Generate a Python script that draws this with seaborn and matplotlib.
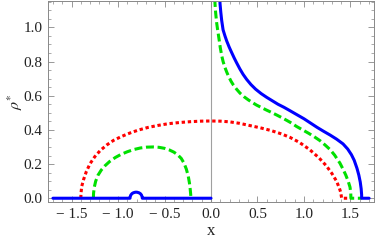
import numpy as np
import pandas as pd
import matplotlib
matplotlib.use('Agg')
import matplotlib.pyplot as plt
from matplotlib.ticker import MultipleLocator
import seaborn as sns

sns.set_style('ticks')
plt.rcParams['font.family'] = ['Liberation Serif', 'DejaVu Serif']
plt.rcParams['mathtext.fontset'] = 'stix'

# red dotted curve
red_x = [-1.40, -1.398, -1.39, -1.37, -1.34, -1.30, -1.25, -1.19, -1.12, -1.05, -0.96, -0.87,
         -0.78, -0.68, -0.57, -0.46, -0.34, -0.22, -0.11, 0.0, 0.10, 0.20, 0.31, 0.42, 0.53,
         0.64, 0.76, 0.85, 0.95, 1.06, 1.16, 1.24, 1.30, 1.35, 1.38, 1.395, 1.405, 1.50]
red_y = [0.0, 0.03, 0.07, 0.11, 0.157, 0.203, 0.243, 0.28, 0.312, 0.338, 0.362, 0.382,
         0.399, 0.414, 0.426, 0.436, 0.443, 0.448, 0.451, 0.452, 0.451, 0.447, 0.438, 0.425, 0.412,
         0.397, 0.376, 0.356, 0.327, 0.285, 0.237, 0.19, 0.145, 0.10, 0.06, 0.035, 0.0, 0.0]

# green dashed curve, left arc and right branch
green_left_x = [-1.265, -1.263, -1.255, -1.24, -1.215, -1.18, -1.14, -1.09, -1.03, -0.97, -0.90,
                -0.83, -0.76, -0.69, -0.62, -0.56, -0.50, -0.45, -0.40, -0.36, -0.32, -0.29,
                -0.265, -0.245, -0.232, -0.223, -0.218, -0.217]
green_left_y = [0.0, 0.03, 0.065, 0.10, 0.135, 0.165, 0.19, 0.215, 0.238, 0.256, 0.272,
                0.285, 0.294, 0.299, 0.30, 0.298, 0.292, 0.283, 0.27, 0.255, 0.233, 0.205,
                0.17, 0.13, 0.09, 0.05, 0.02, 0.0]
green_right_x = [0.035, 0.043, 0.05, 0.06, 0.07, 0.078, 0.09, 0.10, 0.115, 0.13, 0.15, 0.17,
                 0.19, 0.215, 0.24, 0.275, 0.312, 0.355, 0.40, 0.445, 0.49, 0.545, 0.60, 0.655,
                 0.706, 0.76, 0.81, 0.865, 0.92, 0.985, 1.05, 1.11, 1.172, 1.23, 1.28, 1.33,
                 1.387, 1.42, 1.45, 1.475, 1.495, 1.503, 1.505, 1.62]
green_right_y = [1.25, 1.139, 1.085, 1.03, 0.99, 0.962, 0.918, 0.88, 0.835, 0.80, 0.765, 0.737,
                 0.712, 0.685, 0.663, 0.638, 0.615, 0.594, 0.576, 0.56, 0.545, 0.53, 0.515, 0.501,
                 0.487, 0.472, 0.457, 0.44, 0.42, 0.40, 0.38, 0.36, 0.337, 0.31, 0.285, 0.252,
                 0.205, 0.17, 0.135, 0.10, 0.065, 0.03, 0.0, 0.0]

# blue solid curve, flat part with small bump and right branch
blue_left_x = [-1.70, -0.871, -0.869, -0.862, -0.850, -0.835, -0.816, -0.805, -0.794, -0.775,
               -0.760, -0.748, -0.741, -0.739, 0.0]
blue_left_y = [0.0, 0.0, 0.009, 0.019, 0.027, 0.032, 0.035, 0.0355, 0.035, 0.032,
               0.027, 0.019, 0.009, 0.0, 0.0]
blue_right_x = [0.09, 0.097, 0.105, 0.115, 0.13, 0.15, 0.169, 0.195, 0.22, 0.25, 0.276, 0.31,
                0.345, 0.384, 0.43, 0.48, 0.54, 0.60, 0.66, 0.72, 0.785, 0.85, 0.92, 1.0, 1.07,
                1.14, 1.21, 1.28, 1.35, 1.42, 1.47, 1.51, 1.54, 1.57, 1.59, 1.605, 1.615, 1.62,
                1.62, 1.70]
blue_right_y = [1.25, 1.139, 1.09, 1.04, 0.985, 0.95, 0.92, 0.885, 0.855, 0.82, 0.792, 0.757,
                0.725, 0.695, 0.665, 0.638, 0.612, 0.59, 0.57, 0.55, 0.532, 0.512, 0.49, 0.465, 0.44,
                0.415, 0.392, 0.37, 0.346, 0.318, 0.288, 0.255, 0.222, 0.175, 0.135, 0.095, 0.055, 0.02,
                0.0, 0.0]

fig = plt.figure(figsize=(3.75, 2.45), dpi=100)
ax = fig.add_axes([48 / 375, 43 / 245, 326 / 375, 201 / 245])

# vertical axis line at x=0
ax.axvline(0, color='#a0a0a0', lw=0.8, zorder=0)

lw = 2.2
sns.lineplot(data=pd.DataFrame({'x': red_x, 'y': red_y}), x='x', y='y', ax=ax,
             estimator=None, sort=False, color='#ff0000', lw=lw, linestyle=(0, (1.1, 0.9)))
for gx, gy in [(green_left_x, green_left_y), (green_right_x, green_right_y)]:
    sns.lineplot(data=pd.DataFrame({'x': gx, 'y': gy}), x='x', y='y', ax=ax,
                 estimator=None, sort=False, color='#00e000', lw=lw, linestyle=(0, (2.6, 1.2)))
for bx, by in [(blue_left_x, blue_left_y), (blue_right_x, blue_right_y)]:
    sns.lineplot(data=pd.DataFrame({'x': bx, 'y': by}), x='x', y='y', ax=ax,
                 estimator=None, sort=False, color='#0000ff', lw=lw)

ax.set_xlim(-1.753, 1.753)
ax.set_ylim(-0.022, 1.154)
ax.xaxis.set_major_locator(MultipleLocator(0.5))
ax.xaxis.set_minor_locator(MultipleLocator(0.1))
ax.yaxis.set_major_locator(MultipleLocator(0.2))
ax.yaxis.set_minor_locator(MultipleLocator(0.05))
ax.xaxis.set_major_formatter(plt.FuncFormatter(lambda v, p: ('\u2212 %.1f' % abs(v)) if v < -1e-9 else '%.1f' % abs(v)))
ax.yaxis.set_major_formatter(plt.FuncFormatter(lambda v, p: '%.1f' % abs(v)))

ax.tick_params(which='both', direction='in', top=True, right=True, color='#888888',
               labelsize=11, labelcolor='#222222')
ax.tick_params(which='major', length=4, width=0.6, pad=4)
ax.tick_params(which='minor', length=2, width=0.5)
for s in ax.spines.values():
    s.set_color('#888888')
    s.set_linewidth(0.7)

ax.set_xlabel('x', fontsize=12, color='#222222', labelpad=2)
ax.set_ylabel(r'$\rho^{*}$', fontsize=11.5, color='#222222')
ax.yaxis.set_label_coords(-0.072, 0.5)

fig.savefig('out.png', dpi=100)
